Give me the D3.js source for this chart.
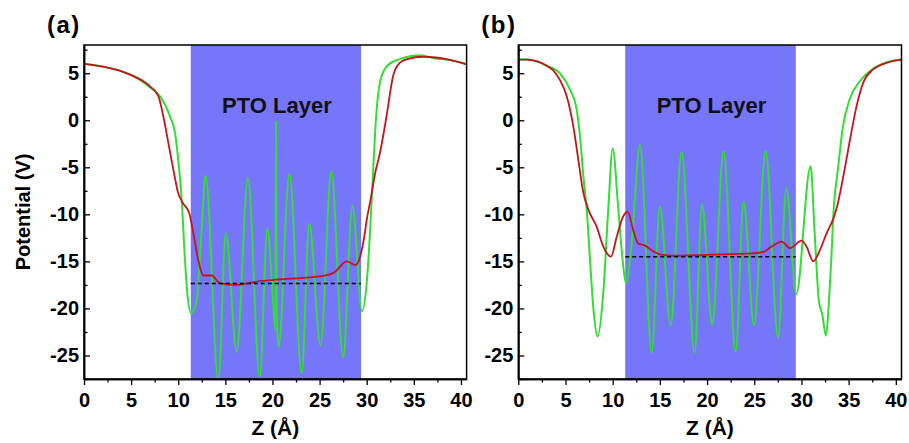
<!DOCTYPE html>
<html>
<head>
<meta charset="utf-8">
<script src="https://cdn.jsdelivr.net/npm/d3@7"></script>
<style>
  body { margin: 0; background: #fff; }
  text { font-family: "Liberation Sans", Arial, sans-serif; font-weight: bold; }
</style>
</head>
<body>
<div id="chart"></div>
<script>
// data: [Z (Å), potential (V)]
var greenA = [[0, 6.0], [2, 5.7], [4, 5.2], [4.9, 4.85], [7.0, 3.5], [8.07, 2.55], [9.13, 0.4], [9.66, -1.35],
  [10.0, -4.2], [10.37, -8.5], [10.72, -14.9], [10.97, -18.4], [11.36, -20.5], [11.96, -19.1], [12.5, -11.3],
  [12.9, -5.9], [14.26, -27.7], [15.05, -12.0], [16.2, -24.6], [17.4, -6.2], [18.65, -27.3], [19.46, -11.5],
  [20.05, -19], [20.3, -22.3], [20.38, -0.2], [20.46, -21], [20.64, -24.1], [21.8, -5.7], [23.1, -26.9],
  [23.9, -11.0], [25.1, -23.9], [26.25, -5.45], [27.5, -25.2], [28.48, -9.1], [29.5, -20.3], [30.1, -16],
  [30.4, -11], [30.7, -5], [31.0, 0.4], [31.4, 4.0], [32.1, 5.7], [33.5, 6.5], [35.7, 6.9], [37.1, 6.6],
  [38.9, 6.4], [40.6, 5.95]];

var redA = [[0, 6.0], [2, 5.7], [4, 5.2], [4.9, 4.85], [7.0, 3.6], [7.9, 2.55], [8.42, 0.4], [8.95, -2.4],
  [9.48, -5.25], [10.0, -7.75], [10.5, -8.8], [11.18, -9.9], [11.6, -12.0], [12.13, -14.9], [12.67, -16.5],
  [13.55, -16.5], [14.4, -17.3], [16.2, -17.5], [18.0, -17.2], [20.9, -16.9], [25.0, -16.6], [26.5, -16.2],
  [27.9, -15.0], [28.8, -15.4], [29.3, -14.5], [29.8, -12.0], [30.0, -10.6], [30.4, -8.5], [30.9, -5.6],
  [31.4, -3.5], [32.1, 0.4], [32.8, 4.7], [33.5, 6.1], [34.3, 6.5], [36.0, 6.75], [38.9, 6.4], [40.6, 5.95]];

var greenB = [[0, 6.45], [1.0, 6.45], [2.0, 6.25], [3.0, 5.8], [4.4, 5.0], [5.48, 3.25], [6.19, 1.1], [6.54, -1.7],
  [6.9, -6.0], [7.25, -9.5], [7.6, -14.9], [8.0, -20.5], [8.4, -23.0], [9.0, -18.4], [9.53, -9.5],
  [10.0, -3.0], [10.6, -9.5], [11.06, -14.9], [11.4, -17.3], [12.0, -13.1], [12.9, -2.65], [14.13, -24.7],
  [15.0, -9.2], [16.14, -21.85], [17.3, -3.4], [18.68, -24.7], [19.47, -8.9], [20.4, -21.0], [20.55, -21.7],
  [21.75, -3.3], [23.03, -24.55], [23.87, -8.7], [24.97, -21.8], [26.2, -3.3], [27.52, -23.1], [28.4, -7.2],
  [29.44, -18.5], [30.97, -4.9], [31.4, -12], [31.85, -19.2], [32.2, -20.6], [32.6, -22.9], [32.9, -19.5],
  [33.15, -15], [33.37, -10.2], [33.9, -4.9], [34.4, -0.65], [35.1, 2.2], [36.2, 4.15], [37.6, 5.5],
  [39.2, 6.2], [40.6, 6.45]];

var redB = [[0, 6.45], [1.0, 6.45], [2.0, 6.25], [3.0, 5.8], [3.7, 5.3], [4.4, 4.3], [5.13, 2.55], [5.83, -0.65],
  [6.36, -4.2], [6.9, -7.75], [7.42, -9.5], [8.3, -11.3], [9.0, -13.4], [9.82, -14.5], [10.42, -12.4],
  [11.12, -10.2], [11.59, -9.7], [12.18, -11.7], [12.7, -13.1], [13.4, -13.3], [14.1, -13.8], [15.0, -14.25],
  [16.4, -14.4], [20.0, -14.3], [24.9, -14.15], [25.95, -14.0], [26.8, -13.45], [27.9, -12.9], [28.8, -13.6],
  [30.0, -12.8], [30.55, -13.45], [31.25, -15.0], [31.96, -13.8], [32.67, -12.0], [33.4, -10.4], [33.77, -9.2],
  [34.43, -6.0], [35.14, -2.1], [35.84, 1.5], [36.55, 4.0], [37.6, 5.4], [39.0, 6.1], [40.6, 6.45]];

var ptoLayer = [11.33, 29.4];
var averages = [-17.35, -14.5];
var panelLabels = ["(a)", "(b)"];
var xTicks = [0, 5, 10, 15, 20, 25, 30, 35, 40];
var xMinor = [2.5, 7.5, 12.5, 17.5, 22.5, 27.5, 32.5, 37.5];
var yTicks = [-25, -20, -15, -10, -5, 0, 5];
var yMinor = [-27.5, -22.5, -17.5, -12.5, -7.5, -2.5, 2.5, 7.5];

var svgWidth = 909, svgHeight = 443;
var plotTop = 45, plotBottom = 379;

var svg = d3.select("#chart").append("svg")
  .attr("width", svgWidth)
  .attr("height", svgHeight);

var panels = [
  { left: 84, right: 466.6, green: greenA, red: redA },
  { left: 518.3, right: 901.5, green: greenB, red: redB }
];

var yScale = d3.scaleLinear().domain([-27.5, 8]).range([plotBottom, plotTop]);

panels.forEach(function(p, i) {
  var xScale = d3.scaleLinear().domain([0, 40.6]).range([p.left, p.right]);
  var g = svg.append("g");

  g.append("clipPath").attr("id", "clip" + i)
    .append("rect")
    .attr("x", p.left).attr("y", plotTop)
    .attr("width", p.right - p.left).attr("height", plotBottom - plotTop);

  // PTO layer band
  g.append("rect")
    .attr("x", xScale(ptoLayer[0]))
    .attr("y", plotTop)
    .attr("width", xScale(ptoLayer[1]) - xScale(ptoLayer[0]))
    .attr("height", plotBottom - plotTop)
    .attr("fill", "#7676fb");

  g.append("text")
    .attr("x", xScale((ptoLayer[0] + ptoLayer[1]) / 2) + 1)
    .attr("y", 112.5)
    .attr("text-anchor", "middle")
    .style("font-size", "22px")
    .style("fill", "#111")
    .text("PTO Layer");

  var line = d3.line()
    .x(d => xScale(d[0]))
    .y(d => yScale(d[1]))
    .curve(d3.curveMonotoneX);

  var curves = g.append("g").attr("clip-path", "url(#clip" + i + ")");

  curves.append("path")
    .attr("d", line(p.green))
    .attr("fill", "none")
    .attr("stroke", "#33dd33")
    .attr("stroke-width", 2);

  curves.append("path")
    .attr("d", line(p.red))
    .attr("fill", "none")
    .attr("stroke", "#c4141c")
    .attr("stroke-width", 1.8);

  // average potential across the layer
  g.append("line")
    .attr("x1", xScale(ptoLayer[0])).attr("x2", xScale(ptoLayer[1]))
    .attr("y1", yScale(averages[i])).attr("y2", yScale(averages[i]))
    .attr("stroke", "#000")
    .attr("stroke-width", 1.6)
    .attr("stroke-dasharray", "4,3");

  // frame
  g.append("rect")
    .attr("x", p.left).attr("y", plotTop)
    .attr("width", p.right - p.left).attr("height", plotBottom - plotTop)
    .attr("fill", "none")
    .attr("stroke", "#000")
    .attr("stroke-width", 1.5);

  // axes
  g.append("g")
    .attr("transform", `translate(0, ${plotBottom})`)
    .call(d3.axisBottom(xScale).tickValues(xTicks).tickSize(6).tickSizeOuter(0).tickPadding(8));
  g.append("g")
    .attr("transform", `translate(0, ${plotBottom})`)
    .call(d3.axisBottom(xScale).tickValues(xMinor).tickSize(3.5).tickSizeOuter(0).tickFormat(""));

  g.append("g")
    .attr("transform", `translate(${p.left}, 0)`)
    .call(d3.axisLeft(yScale).tickValues(yTicks).tickSize(-6).tickSizeOuter(0).tickPadding(5)
      .tickFormat(d => String(d)));
  g.append("g")
    .attr("transform", `translate(${p.left}, 0)`)
    .call(d3.axisLeft(yScale).tickValues(yMinor).tickSize(-3.5).tickSizeOuter(0).tickFormat(""));

  g.selectAll(".domain").attr("stroke-width", 1.5);
  g.selectAll(".tick line").attr("stroke-width", 1.3);
  g.selectAll(".tick text")
    .style("font-size", "20px")
    .style("font-family", "'Liberation Sans', Arial, sans-serif")
    .style("font-weight", "bold")
    .attr("fill", "#000");

  g.append("text")
    .attr("x", (p.left + p.right) / 2)
    .attr("y", 435)
    .attr("text-anchor", "middle")
    .style("font-size", "21px")
    .text("Z (Å)");

  g.append("text")
    .attr("x", p.left - 37)
    .attr("y", 33)
    .style("font-size", "24px")
    .style("letter-spacing", "1.5px")
    .text(panelLabels[i]);
});

svg.append("text")
  .attr("transform", `translate(29.5, ${(plotTop + plotBottom) / 2}) rotate(-90)`)
  .attr("text-anchor", "middle")
  .style("font-size", "20px")
  .text("Potential (V)");
</script>
</body>
</html>
